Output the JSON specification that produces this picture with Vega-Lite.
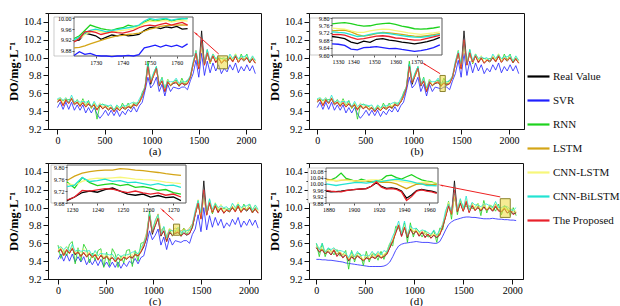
{
"$schema": "https://vega.github.io/schema/vega-lite/v6.json",
"background": "white",
"padding": {"left": 7, "top": 7, "right": 0, "bottom": 0},
"config": {
 "font": "Liberation Serif",
 "view": {"stroke": "#111", "strokeWidth": 1},
 "axis": {"labelFont": "Liberation Serif", "titleFont": "Liberation Serif", "labelColor": "#000", "titleColor": "#000", "domainColor": "#111", "tickColor": "#111", "grid": false, "labelOverlap": false}
},
"datasets": {
 "ab": [
{"x":0,"R":9.50,"S":9.44,"N":9.53,"L":9.505,"C":9.505,"B":9.54,"P":9.51},
{"x":30,"R":9.53,"S":9.50,"N":9.53,"L":9.545,"C":9.555,"B":9.55,"P":9.53},
{"x":60,"R":9.47,"S":9.42,"N":9.52,"L":9.465,"C":9.485,"B":9.52,"P":9.46},
{"x":90,"R":9.52,"S":9.50,"N":9.53,"L":9.53,"C":9.555,"B":9.55,"P":9.53},
{"x":120,"R":9.49,"S":9.42,"N":9.53,"L":9.49,"C":9.495,"B":9.50,"P":9.485},
{"x":150,"R":9.54,"S":9.50,"N":9.53,"L":9.545,"C":9.555,"B":9.58,"P":9.545},
{"x":180,"R":9.47,"S":9.41,"N":9.49,"L":9.485,"C":9.475,"B":9.50,"P":9.48},
{"x":210,"R":9.50,"S":9.47,"N":9.53,"L":9.495,"C":9.525,"B":9.52,"P":9.50},
{"x":240,"R":9.46,"S":9.41,"N":9.46,"L":9.47,"C":9.475,"B":9.50,"P":9.45},
{"x":270,"R":9.49,"S":9.47,"N":9.54,"L":9.49,"C":9.525,"B":9.51,"P":9.50},
{"x":300,"R":9.45,"S":9.38,"N":9.46,"L":9.455,"C":9.455,"B":9.50,"P":9.445},
{"x":330,"R":9.48,"S":9.44,"N":9.52,"L":9.495,"C":9.495,"B":9.51,"P":9.485},
{"x":360,"R":9.44,"S":9.38,"N":9.43,"L":9.435,"C":9.445,"B":9.45,"P":9.45},
{"x":390,"R":9.47,"S":9.44,"N":9.49,"L":9.48,"C":9.495,"B":9.51,"P":9.47},
{"x":420,"R":9.42,"S":9.37,"N":9.31,"L":9.42,"C":9.435,"B":9.45,"P":9.41},
{"x":450,"R":9.46,"S":9.32,"N":9.46,"L":9.465,"C":9.495,"B":9.48,"P":9.47},
{"x":480,"R":9.43,"S":9.36,"N":9.48,"L":9.445,"C":9.435,"B":9.47,"P":9.425},
{"x":510,"R":9.45,"S":9.41,"N":9.46,"L":9.445,"C":9.465,"B":9.47,"P":9.455},
{"x":540,"R":9.41,"S":9.35,"N":9.45,"L":9.42,"C":9.415,"B":9.46,"P":9.42},
{"x":570,"R":9.44,"S":9.41,"N":9.43,"L":9.44,"C":9.465,"B":9.47,"P":9.44},
{"x":600,"R":9.40,"S":9.35,"N":9.42,"L":9.405,"C":9.415,"B":9.41,"P":9.39},
{"x":630,"R":9.43,"S":9.41,"N":9.46,"L":9.445,"C":9.465,"B":9.47,"P":9.44},
{"x":660,"R":9.41,"S":9.34,"N":9.41,"L":9.405,"C":9.415,"B":9.44,"P":9.405},
{"x":690,"R":9.44,"S":9.40,"N":9.49,"L":9.45,"C":9.455,"B":9.46,"P":9.445},
{"x":720,"R":9.42,"S":9.36,"N":9.43,"L":9.42,"C":9.425,"B":9.46,"P":9.43},
{"x":750,"R":9.45,"S":9.42,"N":9.49,"L":9.455,"C":9.475,"B":9.47,"P":9.45},
{"x":780,"R":9.44,"S":9.39,"N":9.43,"L":9.455,"C":9.455,"B":9.49,"P":9.43},
{"x":810,"R":9.47,"S":9.45,"N":9.49,"L":9.465,"C":9.505,"B":9.50,"P":9.48},
{"x":840,"R":9.46,"S":9.39,"N":9.49,"L":9.47,"C":9.465,"B":9.47,"P":9.455},
{"x":870,"R":9.50,"S":9.46,"N":9.50,"L":9.50,"C":9.515,"B":9.54,"P":9.505},
{"x":900,"R":9.56,"S":9.50,"N":9.61,"L":9.565,"C":9.565,"B":9.59,"P":9.57},
{"x":930,"R":9.66,"S":9.63,"N":9.67,"L":9.675,"C":9.685,"B":9.68,"P":9.66},
{"x":960,"R":9.92,"S":9.78,"N":9.96,"L":9.88,"C":9.90,"B":9.93,"P":9.90},
{"x":990,"R":9.70,"S":9.66,"N":9.72,"L":9.73,"C":9.74,"B":9.74,"P":9.72},
{"x":1020,"R":9.80,"S":9.70,"N":9.82,"L":9.79,"C":9.80,"B":9.83,"P":9.795},
{"x":1050,"R":9.88,"S":9.78,"N":9.90,"L":9.87,"C":9.88,"B":9.90,"P":9.88},
{"x":1080,"R":9.68,"S":9.62,"N":9.70,"L":9.70,"C":9.69,"B":9.70,"P":9.69},
{"x":1110,"R":9.74,"S":9.70,"N":9.78,"L":9.735,"C":9.765,"B":9.77,"P":9.74},
{"x":1140,"R":9.62,"S":9.57,"N":9.64,"L":9.63,"C":9.645,"B":9.66,"P":9.62},
{"x":1170,"R":9.72,"S":9.70,"N":9.76,"L":9.72,"C":9.755,"B":9.74,"P":9.73},
{"x":1200,"R":9.69,"S":9.62,"N":9.68,"L":9.695,"C":9.695,"B":9.73,"P":9.685},
{"x":1230,"R":9.71,"S":9.67,"N":9.73,"L":9.725,"C":9.725,"B":9.73,"P":9.715},
{"x":1260,"R":9.72,"S":9.66,"N":9.75,"L":9.715,"C":9.725,"B":9.77,"P":9.73},
{"x":1290,"R":9.68,"S":9.65,"N":9.68,"L":9.69,"C":9.705,"B":9.71,"P":9.68},
{"x":1320,"R":9.72,"S":9.67,"N":9.77,"L":9.72,"C":9.735,"B":9.73,"P":9.71},
{"x":1350,"R":9.69,"S":9.67,"N":9.70,"L":9.695,"C":9.725,"B":9.73,"P":9.70},
{"x":1380,"R":9.71,"S":9.64,"N":9.75,"L":9.725,"C":9.715,"B":9.74,"P":9.705},
{"x":1410,"R":9.78,"S":9.74,"N":9.77,"L":9.775,"C":9.795,"B":9.80,"P":9.785},
{"x":1440,"R":9.92,"S":9.82,"N":9.94,"L":9.93,"C":9.925,"B":9.96,"P":9.93},
{"x":1470,"R":10.05,"S":9.97,"N":10.08,"L":10.05,"C":10.075,"B":10.07,"P":10.05},
{"x":1500,"R":9.88,"S":9.78,"N":9.88,"L":9.885,"C":9.895,"B":9.93,"P":9.87},
{"x":1530,"R":10.30,"S":10.05,"N":10.18,"L":10.12,"C":10.12,"B":10.16,"P":10.20},
{"x":1560,"R":9.92,"S":9.80,"N":9.93,"L":9.915,"C":9.925,"B":9.93,"P":9.915},
{"x":1590,"R":10.05,"S":9.96,"N":10.09,"L":10.06,"C":10.065,"B":10.09,"P":10.055},
{"x":1620,"R":9.94,"S":9.83,"N":9.93,"L":9.94,"C":9.945,"B":9.97,"P":9.95},
{"x":1650,"R":10.02,"S":9.94,"N":10.04,"L":10.025,"C":10.045,"B":10.04,"P":10.02},
{"x":1680,"R":9.95,"S":9.85,"N":9.98,"L":9.965,"C":9.965,"B":9.99,"P":9.94},
{"x":1710,"R":9.99,"S":9.92,"N":9.99,"L":9.985,"C":10.025,"B":10.01,"P":10.00},
{"x":1740,"R":9.94,"S":9.82,"N":9.99,"L":9.95,"C":9.945,"B":9.99,"P":9.935},
{"x":1770,"R":9.97,"S":9.88,"N":9.98,"L":9.97,"C":9.985,"B":10.00,"P":9.975},
{"x":1800,"R":9.95,"S":9.84,"N":9.99,"L":9.955,"C":9.955,"B":9.96,"P":9.96},
{"x":1830,"R":10.00,"S":9.92,"N":9.99,"L":10.015,"C":10.025,"B":10.04,"P":10.00},
{"x":1860,"R":9.96,"S":9.86,"N":9.98,"L":9.955,"C":9.975,"B":9.99,"P":9.95},
{"x":1890,"R":10.01,"S":9.94,"N":10.04,"L":10.02,"C":10.045,"B":10.03,"P":10.02},
{"x":1920,"R":9.95,"S":9.83,"N":9.95,"L":9.95,"C":9.955,"B":9.99,"P":9.945},
{"x":1950,"R":9.99,"S":9.90,"N":10.04,"L":9.995,"C":10.005,"B":10.01,"P":9.995},
{"x":1980,"R":9.96,"S":9.85,"N":9.97,"L":9.975,"C":9.965,"B":10.01,"P":9.97},
{"x":2010,"R":10.00,"S":9.92,"N":10.04,"L":9.995,"C":10.025,"B":10.03,"P":10.00},
{"x":2040,"R":9.95,"S":9.85,"N":9.94,"L":9.96,"C":9.965,"B":9.96,"P":9.94},
{"x":2070,"R":9.98,"S":9.91,"N":10.00,"L":9.98,"C":10.015,"B":10.02,"P":9.99},
{"x":2100,"R":9.94,"S":9.82,"N":9.97,"L":9.945,"C":9.945,"B":9.97,"P":9.935}
 ],
 "c": [
{"x":0,"R":9.50,"S":9.42,"N":9.58,"L":9.505,"C":9.52,"B":9.55,"P":9.51},
{"x":30,"R":9.53,"S":9.48,"N":9.43,"L":9.545,"C":9.57,"B":9.56,"P":9.53},
{"x":60,"R":9.47,"S":9.40,"N":9.52,"L":9.465,"C":9.50,"B":9.53,"P":9.46},
{"x":90,"R":9.52,"S":9.48,"N":9.46,"L":9.53,"C":9.57,"B":9.56,"P":9.53},
{"x":120,"R":9.49,"S":9.40,"N":9.59,"L":9.49,"C":9.51,"B":9.51,"P":9.485},
{"x":150,"R":9.54,"S":9.48,"N":9.62,"L":9.545,"C":9.57,"B":9.59,"P":9.545},
{"x":180,"R":9.47,"S":9.39,"N":9.37,"L":9.485,"C":9.49,"B":9.51,"P":9.48},
{"x":210,"R":9.50,"S":9.45,"N":9.55,"L":9.495,"C":9.54,"B":9.53,"P":9.50},
{"x":240,"R":9.46,"S":9.39,"N":9.40,"L":9.47,"C":9.49,"B":9.51,"P":9.45},
{"x":270,"R":9.49,"S":9.45,"N":9.59,"L":9.49,"C":9.54,"B":9.52,"P":9.50},
{"x":300,"R":9.45,"S":9.36,"N":9.53,"L":9.455,"C":9.47,"B":9.51,"P":9.445},
{"x":330,"R":9.48,"S":9.42,"N":9.38,"L":9.495,"C":9.51,"B":9.52,"P":9.485},
{"x":360,"R":9.44,"S":9.36,"N":9.49,"L":9.435,"C":9.46,"B":9.46,"P":9.45},
{"x":390,"R":9.47,"S":9.42,"N":9.41,"L":9.48,"C":9.51,"B":9.52,"P":9.47},
{"x":420,"R":9.42,"S":9.35,"N":9.52,"L":9.42,"C":9.45,"B":9.46,"P":9.41},
{"x":450,"R":9.46,"S":9.42,"N":9.54,"L":9.465,"C":9.51,"B":9.49,"P":9.47},
{"x":480,"R":9.43,"S":9.34,"N":9.33,"L":9.445,"C":9.45,"B":9.48,"P":9.425},
{"x":510,"R":9.45,"S":9.39,"N":9.50,"L":9.445,"C":9.48,"B":9.48,"P":9.455},
{"x":540,"R":9.41,"S":9.33,"N":9.35,"L":9.42,"C":9.43,"B":9.47,"P":9.42},
{"x":570,"R":9.44,"S":9.39,"N":9.54,"L":9.44,"C":9.48,"B":9.48,"P":9.44},
{"x":600,"R":9.40,"S":9.33,"N":9.48,"L":9.405,"C":9.43,"B":9.42,"P":9.39},
{"x":630,"R":9.43,"S":9.39,"N":9.33,"L":9.445,"C":9.48,"B":9.48,"P":9.44},
{"x":660,"R":9.41,"S":9.32,"N":9.46,"L":9.405,"C":9.43,"B":9.45,"P":9.405},
{"x":690,"R":9.44,"S":9.38,"N":9.38,"L":9.45,"C":9.47,"B":9.47,"P":9.445},
{"x":720,"R":9.42,"S":9.34,"N":9.52,"L":9.42,"C":9.44,"B":9.47,"P":9.43},
{"x":750,"R":9.45,"S":9.40,"N":9.53,"L":9.455,"C":9.49,"B":9.48,"P":9.45},
{"x":780,"R":9.44,"S":9.37,"N":9.34,"L":9.455,"C":9.47,"B":9.50,"P":9.43},
{"x":810,"R":9.47,"S":9.43,"N":9.52,"L":9.465,"C":9.52,"B":9.51,"P":9.48},
{"x":840,"R":9.46,"S":9.37,"N":9.40,"L":9.47,"C":9.48,"B":9.48,"P":9.455},
{"x":870,"R":9.50,"S":9.44,"N":9.60,"L":9.50,"C":9.53,"B":9.55,"P":9.505},
{"x":900,"R":9.56,"S":9.46,"N":9.61,"L":9.61,"C":9.58,"B":9.60,"P":9.57},
{"x":930,"R":9.66,"S":9.59,"N":9.67,"L":9.72,"C":9.70,"B":9.69,"P":9.66},
{"x":960,"R":9.92,"S":9.74,"N":9.96,"L":9.93,"C":9.90,"B":9.93,"P":9.90},
{"x":990,"R":9.70,"S":9.64,"N":9.72,"L":9.755,"C":9.75,"B":9.73,"P":9.72},
{"x":1020,"R":9.80,"S":9.69,"N":9.82,"L":9.845,"C":9.82,"B":9.86,"P":9.795},
{"x":1050,"R":9.88,"S":9.76,"N":9.90,"L":9.93,"C":9.91,"B":9.92,"P":9.88},
{"x":1080,"R":9.68,"S":9.58,"N":9.70,"L":9.74,"C":9.70,"B":9.70,"P":9.69},
{"x":1110,"R":9.74,"S":9.67,"N":9.78,"L":9.78,"C":9.78,"B":9.79,"P":9.74},
{"x":1140,"R":9.62,"S":9.53,"N":9.64,"L":9.675,"C":9.65,"B":9.66,"P":9.62},
{"x":1170,"R":9.72,"S":9.66,"N":9.76,"L":9.765,"C":9.77,"B":9.75,"P":9.73},
{"x":1200,"R":9.69,"S":9.58,"N":9.68,"L":9.74,"C":9.71,"B":9.74,"P":9.685},
{"x":1230,"R":9.71,"S":9.63,"N":9.73,"L":9.77,"C":9.74,"B":9.74,"P":9.715},
{"x":1260,"R":9.72,"S":9.62,"N":9.75,"L":9.76,"C":9.74,"B":9.78,"P":9.73},
{"x":1290,"R":9.68,"S":9.61,"N":9.68,"L":9.735,"C":9.72,"B":9.72,"P":9.68},
{"x":1320,"R":9.72,"S":9.63,"N":9.77,"L":9.765,"C":9.75,"B":9.74,"P":9.71},
{"x":1350,"R":9.69,"S":9.63,"N":9.70,"L":9.74,"C":9.74,"B":9.74,"P":9.70},
{"x":1380,"R":9.71,"S":9.60,"N":9.75,"L":9.77,"C":9.73,"B":9.75,"P":9.705},
{"x":1410,"R":9.78,"S":9.70,"N":9.77,"L":9.82,"C":9.81,"B":9.81,"P":9.785},
{"x":1440,"R":9.92,"S":9.76,"N":9.94,"L":9.93,"C":9.94,"B":9.97,"P":9.93},
{"x":1470,"R":10.05,"S":9.92,"N":10.08,"L":10.05,"C":10.09,"B":10.08,"P":10.05},
{"x":1500,"R":9.88,"S":9.73,"N":9.88,"L":9.885,"C":9.91,"B":9.94,"P":9.87},
{"x":1530,"R":10.30,"S":10.00,"N":10.16,"L":10.12,"C":10.12,"B":10.15,"P":10.20},
{"x":1560,"R":9.92,"S":9.75,"N":9.93,"L":9.915,"C":9.94,"B":9.94,"P":9.915},
{"x":1590,"R":10.05,"S":9.91,"N":10.09,"L":10.06,"C":10.08,"B":10.10,"P":10.055},
{"x":1620,"R":9.94,"S":9.78,"N":9.93,"L":9.94,"C":9.96,"B":9.98,"P":9.95},
{"x":1650,"R":10.02,"S":9.89,"N":10.04,"L":10.025,"C":10.06,"B":10.05,"P":10.02},
{"x":1680,"R":9.95,"S":9.80,"N":9.98,"L":9.965,"C":9.98,"B":10.00,"P":9.94},
{"x":1710,"R":9.99,"S":9.87,"N":9.99,"L":9.985,"C":10.04,"B":10.02,"P":10.00},
{"x":1740,"R":9.94,"S":9.77,"N":9.99,"L":9.95,"C":9.96,"B":10.00,"P":9.935},
{"x":1770,"R":9.97,"S":9.83,"N":9.98,"L":9.97,"C":10.00,"B":10.01,"P":9.975},
{"x":1800,"R":9.95,"S":9.79,"N":9.99,"L":9.955,"C":9.97,"B":9.97,"P":9.96},
{"x":1830,"R":10.00,"S":9.87,"N":9.99,"L":10.015,"C":10.04,"B":10.05,"P":10.00},
{"x":1860,"R":9.96,"S":9.81,"N":9.98,"L":9.955,"C":9.99,"B":10.00,"P":9.95},
{"x":1890,"R":10.01,"S":9.89,"N":10.04,"L":10.02,"C":10.06,"B":10.04,"P":10.02},
{"x":1920,"R":9.95,"S":9.78,"N":9.95,"L":9.95,"C":9.97,"B":10.00,"P":9.945},
{"x":1950,"R":9.99,"S":9.85,"N":10.04,"L":9.995,"C":10.02,"B":10.02,"P":9.995},
{"x":1980,"R":9.96,"S":9.80,"N":9.97,"L":9.975,"C":9.98,"B":10.02,"P":9.97},
{"x":2010,"R":10.00,"S":9.87,"N":10.04,"L":9.995,"C":10.04,"B":10.04,"P":10.00},
{"x":2040,"R":9.95,"S":9.80,"N":9.94,"L":9.96,"C":9.98,"B":9.97,"P":9.94},
{"x":2070,"R":9.98,"S":9.86,"N":10.00,"L":9.98,"C":10.03,"B":10.03,"P":9.99},
{"x":2100,"R":9.94,"S":9.77,"N":9.97,"L":9.945,"C":9.96,"B":9.98,"P":9.935}
 ],
 "d": [
{"x":0,"R":9.55,"S":9.42,"N":9.60,"L":9.56,"C":9.58,"B":9.60,"P":9.55},
{"x":30,"R":9.50,"S":9.42,"N":9.45,"L":9.53,"C":9.55,"B":9.53,"P":9.51},
{"x":60,"R":9.53,"S":9.415,"N":9.60,"L":9.53,"C":9.55,"B":9.60,"P":9.52},
{"x":90,"R":9.48,"S":9.415,"N":9.45,"L":9.50,"C":9.52,"B":9.50,"P":9.485},
{"x":120,"R":9.51,"S":9.41,"N":9.54,"L":9.52,"C":9.52,"B":9.55,"P":9.505},
{"x":150,"R":9.47,"S":9.41,"N":9.52,"L":9.50,"C":9.50,"B":9.53,"P":9.47},
{"x":180,"R":9.52,"S":9.405,"N":9.47,"L":9.52,"C":9.55,"B":9.55,"P":9.53},
{"x":210,"R":9.46,"S":9.40,"N":9.53,"L":9.48,"C":9.51,"B":9.51,"P":9.45},
{"x":240,"R":9.49,"S":9.395,"N":9.46,"L":9.50,"C":9.51,"B":9.52,"P":9.495},
{"x":270,"R":9.44,"S":9.39,"N":9.47,"L":9.47,"C":9.48,"B":9.51,"P":9.435},
{"x":300,"R":9.47,"S":9.38,"N":9.52,"L":9.47,"C":9.48,"B":9.49,"P":9.47},
{"x":330,"R":9.40,"S":9.375,"N":9.31,"L":9.42,"C":9.43,"B":9.44,"P":9.41},
{"x":360,"R":9.45,"S":9.37,"N":9.52,"L":9.46,"C":9.48,"B":9.51,"P":9.44},
{"x":390,"R":9.42,"S":9.365,"N":9.39,"L":9.45,"C":9.47,"B":9.45,"P":9.425},
{"x":420,"R":9.46,"S":9.36,"N":9.49,"L":9.46,"C":9.48,"B":9.51,"P":9.455},
{"x":450,"R":9.43,"S":9.355,"N":9.48,"L":9.45,"C":9.47,"B":9.46,"P":9.43},
{"x":480,"R":9.40,"S":9.35,"N":9.35,"L":9.41,"C":9.41,"B":9.47,"P":9.41},
{"x":510,"R":9.44,"S":9.345,"N":9.51,"L":9.47,"C":9.47,"B":9.46,"P":9.43},
{"x":540,"R":9.42,"S":9.34,"N":9.39,"L":9.42,"C":9.45,"B":9.46,"P":9.425},
{"x":570,"R":9.45,"S":9.34,"N":9.48,"L":9.47,"C":9.50,"B":9.51,"P":9.445},
{"x":600,"R":9.43,"S":9.34,"N":9.48,"L":9.44,"C":9.45,"B":9.46,"P":9.43},
{"x":630,"R":9.46,"S":9.34,"N":9.41,"L":9.49,"C":9.50,"B":9.51,"P":9.47},
{"x":660,"R":9.44,"S":9.34,"N":9.51,"L":9.44,"C":9.45,"B":9.47,"P":9.43},
{"x":690,"R":9.45,"S":9.345,"N":9.42,"L":9.47,"C":9.48,"B":9.52,"P":9.455},
{"x":720,"R":9.48,"S":9.36,"N":9.51,"L":9.49,"C":9.51,"B":9.50,"P":9.475},
{"x":750,"R":9.55,"S":9.39,"N":9.60,"L":9.58,"C":9.60,"B":9.59,"P":9.55},
{"x":780,"R":9.62,"S":9.45,"N":9.57,"L":9.62,"C":9.64,"B":9.68,"P":9.63},
{"x":810,"R":9.72,"S":9.52,"N":9.79,"L":9.74,"C":9.76,"B":9.75,"P":9.71},
{"x":840,"R":9.80,"S":9.57,"N":9.77,"L":9.81,"C":9.81,"B":9.85,"P":9.805},
{"x":870,"R":9.68,"S":9.59,"N":9.71,"L":9.71,"C":9.71,"B":9.71,"P":9.675},
{"x":900,"R":9.78,"S":9.60,"N":9.83,"L":9.78,"C":9.81,"B":9.85,"P":9.78},
{"x":930,"R":9.66,"S":9.605,"N":9.61,"L":9.68,"C":9.71,"B":9.68,"P":9.67},
{"x":960,"R":9.76,"S":9.61,"N":9.83,"L":9.77,"C":9.78,"B":9.80,"P":9.75},
{"x":990,"R":9.70,"S":9.615,"N":9.67,"L":9.73,"C":9.74,"B":9.76,"P":9.705},
{"x":1020,"R":9.74,"S":9.62,"N":9.77,"L":9.74,"C":9.75,"B":9.77,"P":9.735},
{"x":1050,"R":9.68,"S":9.615,"N":9.73,"L":9.70,"C":9.71,"B":9.73,"P":9.68},
{"x":1080,"R":9.72,"S":9.61,"N":9.67,"L":9.73,"C":9.75,"B":9.75,"P":9.73},
{"x":1110,"R":9.67,"S":9.61,"N":9.74,"L":9.70,"C":9.72,"B":9.74,"P":9.66},
{"x":1140,"R":9.70,"S":9.61,"N":9.67,"L":9.70,"C":9.72,"B":9.72,"P":9.705},
{"x":1170,"R":9.66,"S":9.605,"N":9.69,"L":9.68,"C":9.70,"B":9.70,"P":9.655},
{"x":1200,"R":9.69,"S":9.60,"N":9.74,"L":9.70,"C":9.70,"B":9.75,"P":9.69},
{"x":1230,"R":9.66,"S":9.60,"N":9.61,"L":9.69,"C":9.69,"B":9.69,"P":9.67},
{"x":1260,"R":9.70,"S":9.62,"N":9.77,"L":9.70,"C":9.73,"B":9.75,"P":9.69},
{"x":1290,"R":9.78,"S":9.68,"N":9.75,"L":9.80,"C":9.83,"B":9.81,"P":9.785},
{"x":1320,"R":9.90,"S":9.75,"N":9.93,"L":9.91,"C":9.92,"B":9.97,"P":9.895},
{"x":1350,"R":10.02,"S":9.81,"N":10.07,"L":10.05,"C":10.06,"B":10.04,"P":10.02},
{"x":1380,"R":9.92,"S":9.84,"N":9.87,"L":9.92,"C":9.93,"B":9.96,"P":9.93},
{"x":1410,"R":10.30,"S":9.86,"N":10.15,"L":10.12,"C":10.14,"B":10.18,"P":10.20},
{"x":1440,"R":9.95,"S":9.87,"N":9.92,"L":9.96,"C":9.98,"B":9.98,"P":9.955},
{"x":1470,"R":10.05,"S":9.88,"N":10.08,"L":10.08,"C":10.10,"B":10.10,"P":10.045},
{"x":1500,"R":9.96,"S":9.89,"N":10.01,"L":9.96,"C":9.98,"B":9.99,"P":9.96},
{"x":1530,"R":10.06,"S":9.895,"N":10.01,"L":10.08,"C":10.10,"B":10.13,"P":10.07},
{"x":1560,"R":9.95,"S":9.895,"N":10.02,"L":9.96,"C":9.96,"B":9.97,"P":9.94},
{"x":1590,"R":10.02,"S":9.89,"N":9.99,"L":10.05,"C":10.05,"B":10.06,"P":10.025},
{"x":1620,"R":9.97,"S":9.89,"N":10.00,"L":9.97,"C":10.00,"B":10.03,"P":9.965},
{"x":1650,"R":10.00,"S":9.885,"N":10.05,"L":10.02,"C":10.05,"B":10.03,"P":10.00},
{"x":1680,"R":9.96,"S":9.88,"N":9.91,"L":9.97,"C":9.98,"B":10.01,"P":9.97},
{"x":1710,"R":10.01,"S":9.875,"N":10.08,"L":10.04,"C":10.05,"B":10.04,"P":10.00},
{"x":1740,"R":9.97,"S":9.875,"N":9.94,"L":9.97,"C":9.98,"B":10.04,"P":9.975},
{"x":1770,"R":10.00,"S":9.875,"N":10.03,"L":10.02,"C":10.03,"B":10.02,"P":9.995},
{"x":1800,"R":9.96,"S":9.88,"N":10.01,"L":9.97,"C":9.99,"B":10.00,"P":9.96},
{"x":1830,"R":10.01,"S":9.875,"N":9.96,"L":10.04,"C":10.06,"B":10.07,"P":10.02},
{"x":1860,"R":9.97,"S":9.87,"N":10.04,"L":9.97,"C":9.99,"B":10.00,"P":9.96},
{"x":1890,"R":9.95,"S":9.87,"N":9.92,"L":9.97,"C":9.99,"B":10.00,"P":9.955},
{"x":1920,"R":9.99,"S":9.865,"N":10.02,"L":10.00,"C":10.00,"B":10.02,"P":9.985},
{"x":1950,"R":9.94,"S":9.865,"N":9.99,"L":9.97,"C":9.97,"B":10.01,"P":9.94},
{"x":1980,"R":9.96,"S":9.86,"N":9.91,"L":9.96,"C":9.99,"B":9.98,"P":9.97},
{"x":2010,"R":9.93,"S":9.86,"N":10.00,"L":9.95,"C":9.98,"B":9.97,"P":9.92},
{"x":2040,"R":9.94,"S":9.855,"N":9.91,"L":9.95,"C":9.96,"B":10.00,"P":9.945}
 ],
 "ia": [
{"x":1722,"R":9.915,"S":9.862,"N":9.925,"L":9.89,"C":9.915,"B":9.92,"P":9.912},
{"x":1724,"R":9.92,"S":9.876,"N":9.935,"L":9.892,"C":9.925,"B":9.93,"P":9.925},
{"x":1726,"R":9.945,"S":9.866,"N":9.955,"L":9.898,"C":9.94,"B":9.945,"P":9.95},
{"x":1728,"R":9.94,"S":9.87,"N":9.975,"L":9.905,"C":9.95,"B":9.955,"P":9.952},
{"x":1730,"R":9.935,"S":9.862,"N":9.968,"L":9.912,"C":9.955,"B":9.96,"P":9.948},
{"x":1732,"R":9.922,"S":9.86,"N":9.962,"L":9.918,"C":9.95,"B":9.955,"P":9.94},
{"x":1734,"R":9.93,"S":9.86,"N":9.958,"L":9.925,"C":9.945,"B":9.95,"P":9.945},
{"x":1736,"R":9.938,"S":9.858,"N":9.955,"L":9.93,"C":9.95,"B":9.955,"P":9.95},
{"x":1738,"R":9.935,"S":9.86,"N":9.962,"L":9.935,"C":9.952,"B":9.958,"P":9.947},
{"x":1740,"R":9.94,"S":9.86,"N":9.965,"L":9.937,"C":9.955,"B":9.962,"P":9.945},
{"x":1742,"R":9.935,"S":9.862,"N":9.975,"L":9.94,"C":9.958,"B":9.965,"P":9.95},
{"x":1744,"R":9.937,"S":9.86,"N":9.97,"L":9.942,"C":9.962,"B":9.968,"P":9.955},
{"x":1746,"R":9.94,"S":9.865,"N":9.972,"L":9.945,"C":9.97,"B":9.975,"P":9.965},
{"x":1748,"R":9.955,"S":9.89,"N":9.985,"L":9.952,"C":9.982,"B":9.99,"P":9.972},
{"x":1750,"R":9.965,"S":9.895,"N":9.995,"L":9.96,"C":9.99,"B":10.0,"P":9.975},
{"x":1752,"R":9.967,"S":9.9,"N":9.99,"L":9.965,"C":9.988,"B":9.995,"P":9.972},
{"x":1754,"R":9.962,"S":9.893,"N":9.993,"L":9.97,"C":9.99,"B":9.998,"P":9.978},
{"x":1756,"R":9.968,"S":9.9,"N":9.998,"L":9.973,"C":9.992,"B":10.0,"P":9.982},
{"x":1758,"R":9.965,"S":9.895,"N":9.99,"L":9.975,"C":9.986,"B":9.993,"P":9.975},
{"x":1760,"R":9.97,"S":9.9,"N":9.995,"L":9.975,"C":9.99,"B":9.997,"P":9.98},
{"x":1762,"R":9.96,"S":9.892,"N":9.998,"L":9.976,"C":9.992,"B":10.0,"P":9.985},
{"x":1764,"R":9.962,"S":9.905,"N":10.0,"L":9.975,"C":9.99,"B":9.998,"P":9.975}
 ],
 "ib": [
{"x":1330,"R":9.70,"S":9.66,"N":9.768,"L":9.73,"C":9.745,"B":9.725,"P":9.71},
{"x":1333,"R":9.695,"S":9.658,"N":9.772,"L":9.733,"C":9.743,"B":9.722,"P":9.712},
{"x":1336,"R":9.688,"S":9.652,"N":9.775,"L":9.735,"C":9.74,"B":9.72,"P":9.708},
{"x":1339,"R":9.67,"S":9.632,"N":9.77,"L":9.725,"C":9.73,"B":9.71,"P":9.695},
{"x":1342,"R":9.662,"S":9.628,"N":9.762,"L":9.71,"C":9.722,"B":9.70,"P":9.685},
{"x":1345,"R":9.675,"S":9.64,"N":9.756,"L":9.702,"C":9.722,"B":9.703,"P":9.688},
{"x":1348,"R":9.668,"S":9.642,"N":9.758,"L":9.708,"C":9.73,"B":9.712,"P":9.695},
{"x":1351,"R":9.685,"S":9.645,"N":9.765,"L":9.715,"C":9.736,"B":9.718,"P":9.702},
{"x":1354,"R":9.688,"S":9.64,"N":9.77,"L":9.722,"C":9.74,"B":9.72,"P":9.704},
{"x":1357,"R":9.68,"S":9.635,"N":9.772,"L":9.72,"C":9.738,"B":9.716,"P":9.70},
{"x":1360,"R":9.676,"S":9.636,"N":9.765,"L":9.716,"C":9.732,"B":9.71,"P":9.692},
{"x":1363,"R":9.67,"S":9.63,"N":9.756,"L":9.712,"C":9.726,"B":9.705,"P":9.69},
{"x":1366,"R":9.665,"S":9.625,"N":9.75,"L":9.706,"C":9.72,"B":9.70,"P":9.684},
{"x":1369,"R":9.66,"S":9.62,"N":9.742,"L":9.702,"C":9.716,"B":9.697,"P":9.68},
{"x":1372,"R":9.666,"S":9.624,"N":9.74,"L":9.70,"C":9.712,"B":9.695,"P":9.682},
{"x":1375,"R":9.672,"S":9.63,"N":9.742,"L":9.705,"C":9.716,"B":9.70,"P":9.69},
{"x":1378,"R":9.682,"S":9.64,"N":9.746,"L":9.71,"C":9.72,"B":9.705,"P":9.698},
{"x":1381,"R":9.695,"S":9.655,"N":9.752,"L":9.716,"C":9.725,"B":9.712,"P":9.706}
 ],
 "ic": [
{"x":1228,"R":9.688,"N":9.75,"L":9.755,"C":9.745,"B":9.735,"P":9.69},
{"x":1231,"R":9.70,"N":9.73,"L":9.77,"C":9.74,"B":9.74,"P":9.70},
{"x":1234,"R":9.715,"N":9.765,"L":9.78,"C":9.752,"B":9.765,"P":9.722},
{"x":1237,"R":9.72,"N":9.748,"L":9.785,"C":9.76,"B":9.752,"P":9.72},
{"x":1240,"R":9.716,"N":9.738,"L":9.788,"C":9.763,"B":9.755,"P":9.724},
{"x":1243,"R":9.725,"N":9.742,"L":9.79,"C":9.762,"B":9.76,"P":9.728},
{"x":1246,"R":9.73,"N":9.745,"L":9.79,"C":9.764,"B":9.752,"P":9.726},
{"x":1249,"R":9.72,"N":9.738,"L":9.795,"C":9.766,"B":9.755,"P":9.72},
{"x":1252,"R":9.71,"N":9.742,"L":9.793,"C":9.763,"B":9.748,"P":9.715},
{"x":1255,"R":9.706,"N":9.732,"L":9.79,"C":9.76,"B":9.75,"P":9.72},
{"x":1258,"R":9.71,"N":9.735,"L":9.788,"C":9.758,"B":9.745,"P":9.714},
{"x":1261,"R":9.70,"N":9.73,"L":9.785,"C":9.757,"B":9.74,"P":9.71},
{"x":1264,"R":9.705,"N":9.722,"L":9.782,"C":9.754,"B":9.745,"P":9.714},
{"x":1267,"R":9.698,"N":9.725,"L":9.778,"C":9.75,"B":9.738,"P":9.706},
{"x":1270,"R":9.70,"N":9.715,"L":9.775,"C":9.747,"B":9.74,"P":9.71},
{"x":1273,"R":9.688,"N":9.71,"L":9.772,"C":9.745,"B":9.732,"P":9.70}
 ],
 "id": [
{"x":1878,"R":9.955,"N":10.02,"L":10.03,"C":10.02,"B":10.00,"P":9.96},
{"x":1882,"R":9.95,"N":10.025,"L":10.025,"C":10.022,"B":9.995,"P":9.955},
{"x":1886,"R":9.952,"N":10.04,"L":10.02,"C":10.02,"B":9.99,"P":9.952},
{"x":1890,"R":9.955,"N":10.068,"L":10.022,"C":10.025,"B":9.995,"P":9.95},
{"x":1894,"R":9.96,"N":10.035,"L":10.025,"C":10.022,"B":10.0,"P":9.958},
{"x":1898,"R":9.962,"N":10.025,"L":10.022,"C":10.02,"B":10.005,"P":9.962},
{"x":1902,"R":9.965,"N":10.015,"L":10.02,"C":10.018,"B":10.01,"P":9.965},
{"x":1906,"R":9.968,"N":10.03,"L":10.018,"C":10.02,"B":10.008,"P":9.968},
{"x":1910,"R":9.97,"N":10.02,"L":10.02,"C":10.022,"B":10.005,"P":9.97},
{"x":1914,"R":9.985,"N":10.01,"L":10.015,"C":10.025,"B":10.01,"P":9.985},
{"x":1918,"R":10.008,"N":10.018,"L":10.015,"C":10.025,"B":10.02,"P":10.012},
{"x":1922,"R":9.985,"N":10.025,"L":10.01,"C":10.022,"B":10.015,"P":9.98},
{"x":1926,"R":9.972,"N":10.05,"L":10.012,"C":10.02,"B":10.02,"P":9.968},
{"x":1930,"R":9.975,"N":10.055,"L":10.008,"C":10.022,"B":10.025,"P":9.97},
{"x":1934,"R":9.97,"N":10.04,"L":10.0,"C":10.02,"B":10.03,"P":9.965},
{"x":1938,"R":9.955,"N":10.03,"L":9.985,"C":10.015,"B":10.025,"P":9.95},
{"x":1942,"R":9.91,"N":10.045,"L":9.97,"C":10.01,"B":10.02,"P":9.895},
{"x":1946,"R":9.93,"N":10.058,"L":9.985,"C":10.005,"B":10.015,"P":9.92},
{"x":1950,"R":9.958,"N":10.04,"L":9.998,"C":10.005,"B":10.005,"P":9.955},
{"x":1954,"R":9.965,"N":10.025,"L":10.0,"C":10.01,"B":10.0,"P":9.962},
{"x":1958,"R":9.96,"N":10.018,"L":9.998,"C":10.012,"B":9.99,"P":9.955},
{"x":1962,"R":9.955,"N":10.012,"L":9.995,"C":10.008,"B":9.99,"P":9.95},
{"x":1966,"R":9.945,"N":10.0,"L":9.995,"C":10.005,"B":9.988,"P":9.94}
 ]
},
"vconcat": [
 {"hconcat": [
  {"width": 213, "height": 116,
   "resolve": {"scale": {"x": "independent", "y": "independent"}},
   "layer": [
    {"layer": [
     {"data": {"name": "ab"}, "transform": [{"fold": ["R","S","N","L","C","B","P"], "as": ["k","v"]}],
      "mark": {"type": "line", "strokeWidth": 0.8},
      "encoding": {
       "x": {"field": "x", "type": "quantitative", "title": "(a)", "scale": {"domain": [-100, 2160], "nice": false, "zero": false},
             "axis": {"values": [0,250,500,750,1000,1250,1500,1750,2000], "format": "d", "labelOverlap": false, "labelExpr": "datum.value % 500 == 0 ? datum.label : ''", "tickSize": {"condition": {"test": "datum.value % 500 == 0", "value": 5}, "value": 3}, "labelFontSize": 10, "labelPadding": 1, "titleFontSize": 11, "titleFontWeight": "normal", "titlePadding": 0, "labelFlush": false}},
       "y": {"field": "v", "type": "quantitative", "title": "DO/mg·L⁻¹", "scale": {"domain": [9.2, 10.5], "nice": false, "zero": false},
             "axis": {"tickCount": 13, "labelOverlap": false, "labelExpr": "round(datum.value*10) % 2 == 0 ? format(datum.value, '.1f') : ''", "tickSize": {"condition": {"test": "round(datum.value*10) % 2 == 0", "value": 5}, "value": 3}, "labelFontSize": 10, "titleFontSize": 12.5, "titleFontWeight": "bold", "titlePadding": 3}},
       "color": {"field": "k", "type": "nominal", "scale": {"domain": ["R","S","N","L","C","B","P"], "range": ["#000000","#1f1fff","#1ed21e","#d4a516","#f7f77a","#22e3d2","#e8202a"]},
                 "legend": {"orient": "none", "legendX": 478, "legendY": 51, "title": null, "symbolType": "stroke", "symbolStrokeWidth": 2.2, "symbolSize": 484, "labelFont": "Liberation Serif", "labelFontSize": 11, "labelColor": "#111", "rowPadding": 6, "labelOffset": 2, "padding": 0,
                 "labelExpr": "datum.label == 'R' ? 'Real Value' : datum.label == 'S' ? 'SVR' : datum.label == 'N' ? 'RNN' : datum.label == 'L' ? 'LSTM' : datum.label == 'C' ? 'CNN-LSTM' : datum.label == 'B' ? 'CNN-BiLSTM' : 'The Proposed'"}}
      }},
     {"data": {"values": [{"x1": 1700, "x2": 1805, "y1": 9.875, "y2": 10.02}]},
      "mark": {"type": "rect", "fill": "#efdc3c", "fillOpacity": 0.55, "stroke": "#8c8430", "strokeWidth": 1},
      "encoding": {"x": {"field": "x1", "type": "quantitative", "title": "(a)"}, "x2": {"field": "x2"}, "y": {"field": "y1", "type": "quantitative", "title": "DO/mg·L⁻¹"}, "y2": {"field": "y2"}}},
     {"data": {"values": [{"x1": 1712, "y1": 10.04, "x2": 1468, "y2": 10.27}]},
      "mark": {"type": "rule", "color": "#ee2222", "strokeWidth": 1},
      "encoding": {"x": {"field": "x1", "type": "quantitative", "title": "(a)"}, "x2": {"field": "x2"}, "y": {"field": "y1", "type": "quantitative", "title": "DO/mg·L⁻¹"}, "y2": {"field": "y2"}}},
     {"data": {"values": [{"x2": 1468, "y2": 10.27}]},
      "mark": {"type": "point", "shape": "wedge", "filled": true, "color": "#ee2222", "opacity": 1, "size": 40, "angle": 310},
      "encoding": {"x": {"field": "x2", "type": "quantitative", "title": "(a)"}, "y": {"field": "y2", "type": "quantitative", "title": "DO/mg·L⁻¹"}}}
    ]},
    {"layer": [
     {"data": {"values": [{"x1": 1714.6, "x2": 1766, "y1": 9.86, "y2": 10.005}]},
      "mark": {"type": "rect", "fill": "white", "stroke": "#aaa", "strokeWidth": 0.6},
      "encoding": {"x": {"field": "x1", "type": "quantitative", "title": null}, "x2": {"field": "x2"}, "y": {"field": "y1", "type": "quantitative", "title": null}, "y2": {"field": "y2"}}},
     {"data": {"values": [{"x1": 1722, "x2": 1766, "y1": 9.86, "y2": 10.005}]},
      "mark": {"type": "rect", "fillOpacity": 0, "stroke": "#555", "strokeWidth": 0.8},
      "encoding": {"x": {"field": "x1", "type": "quantitative", "title": null}, "x2": {"field": "x2"}, "y": {"field": "y1", "type": "quantitative", "title": null}, "y2": {"field": "y2"}}},
     {"data": {"name": "ia"}, "transform": [{"fold": ["R","S","N","L","C","B","P"], "as": ["k","v"]}],
      "mark": {"type": "line", "strokeWidth": 1.3},
      "encoding": {
       "x": {"field": "x", "type": "quantitative", "title": null, "scale": {"domain": [1722, 1766], "range": [26, 145], "nice": false, "zero": false},
             "axis": {"orient": "bottom", "offset": -73, "zindex": 2, "values": [1730,1740,1750,1760], "format": "d", "labelOverlap": false, "labelFontSize": 6, "tickSize": 2, "labelPadding": 1, "domain": false, "tickColor": "#555"}},
       "y": {"field": "v", "type": "quantitative", "title": null, "scale": {"domain": [9.86, 10.005], "range": [43, 4], "nice": false, "zero": false},
             "axis": {"orient": "left", "offset": -26, "zindex": 2, "tickCount": 15, "labelExpr": "round(datum.value*100) % 4 == 0 ? format(datum.value, '.2f') : ''", "tickSize": {"condition": {"test": "round(datum.value*100) % 4 == 0", "value": 2}, "value": 0}, "labelOverlap": false, "labelFontSize": 6, "labelPadding": 1, "domain": false, "tickColor": "#555"}},
       "color": {"field": "k", "type": "nominal", "scale": {"domain": ["R","S","N","L","C","B","P"], "range": ["#000000","#1f1fff","#1ed21e","#d4a516","#f7f77a","#22e3d2","#e8202a"]}, "legend": null}
      }}
    ]}
   ]},
  {"width": 215, "height": 116,
   "resolve": {"scale": {"x": "independent", "y": "independent"}},
   "layer": [
    {"layer": [
     {"data": {"name": "ab"}, "transform": [{"fold": ["R","S","N","L","C","B","P"], "as": ["k","v"]}],
      "mark": {"type": "line", "strokeWidth": 0.8},
      "encoding": {
       "x": {"field": "x", "type": "quantitative", "title": "(b)", "scale": {"domain": [-85, 2155], "nice": false, "zero": false},
             "axis": {"values": [0,250,500,750,1000,1250,1500,1750,2000], "format": "d", "labelOverlap": false, "labelExpr": "datum.value % 500 == 0 ? datum.label : ''", "tickSize": {"condition": {"test": "datum.value % 500 == 0", "value": 5}, "value": 3}, "labelFontSize": 10, "labelPadding": 1, "titleFontSize": 11, "titleFontWeight": "normal", "titlePadding": 0, "labelFlush": false}},
       "y": {"field": "v", "type": "quantitative", "title": "DO/mg·L⁻¹", "scale": {"domain": [9.2, 10.5], "nice": false, "zero": false},
             "axis": {"tickCount": 13, "labelOverlap": false, "labelExpr": "round(datum.value*10) % 2 == 0 ? format(datum.value, '.1f') : ''", "tickSize": {"condition": {"test": "round(datum.value*10) % 2 == 0", "value": 5}, "value": 3}, "labelFontSize": 10, "titleFontSize": 12.5, "titleFontWeight": "bold", "titlePadding": 3}},
       "color": {"field": "k", "type": "nominal", "scale": {"domain": ["R","S","N","L","C","B","P"], "range": ["#000000","#1f1fff","#1ed21e","#d4a516","#f7f77a","#22e3d2","#e8202a"]}, "legend": null}
      }},
     {"data": {"values": [{"x1": 1280, "x2": 1335, "y1": 9.62, "y2": 9.80}]},
      "mark": {"type": "rect", "fill": "#efdc3c", "fillOpacity": 0.55, "stroke": "#8c8430", "strokeWidth": 1},
      "encoding": {"x": {"field": "x1", "type": "quantitative", "title": "(b)"}, "x2": {"field": "x2"}, "y": {"field": "y1", "type": "quantitative", "title": "DO/mg·L⁻¹"}, "y2": {"field": "y2"}}},
     {"data": {"values": [{"x1": 1281, "y1": 9.82, "x2": 1115, "y2": 9.93}]},
      "mark": {"type": "rule", "color": "#ee2222", "strokeWidth": 1},
      "encoding": {"x": {"field": "x1", "type": "quantitative", "title": "(b)"}, "x2": {"field": "x2"}, "y": {"field": "y1", "type": "quantitative", "title": "DO/mg·L⁻¹"}, "y2": {"field": "y2"}}},
     {"data": {"values": [{"x2": 1115, "y2": 9.93}]},
      "mark": {"type": "point", "shape": "wedge", "filled": true, "color": "#ee2222", "opacity": 1, "size": 40, "angle": 302},
      "encoding": {"x": {"field": "x2", "type": "quantitative", "title": "(b)"}, "y": {"field": "y2", "type": "quantitative", "title": "DO/mg·L⁻¹"}}}
    ]},
    {"layer": [
     {"data": {"values": [{"x1": 1319.6, "x2": 1382, "y1": 9.60, "y2": 9.80}]},
      "mark": {"type": "rect", "fill": "white", "stroke": "#aaa", "strokeWidth": 0.6},
      "encoding": {"x": {"field": "x1", "type": "quantitative", "title": null}, "x2": {"field": "x2"}, "y": {"field": "y1", "type": "quantitative", "title": null}, "y2": {"field": "y2"}}},
     {"data": {"values": [{"x1": 1330, "x2": 1382, "y1": 9.60, "y2": 9.80}]},
      "mark": {"type": "rect", "fillOpacity": 0, "stroke": "#555", "strokeWidth": 0.8},
      "encoding": {"x": {"field": "x1", "type": "quantitative", "title": null}, "x2": {"field": "x2"}, "y": {"field": "y1", "type": "quantitative", "title": null}, "y2": {"field": "y2"}}},
     {"data": {"name": "ib"}, "transform": [{"fold": ["R","S","N","L","C","B","P"], "as": ["k","v"]}],
      "mark": {"type": "line", "strokeWidth": 1.3},
      "encoding": {
       "x": {"field": "x", "type": "quantitative", "title": null, "scale": {"domain": [1330, 1382], "range": [23, 133], "nice": false, "zero": false},
             "axis": {"orient": "bottom", "offset": -74, "zindex": 2, "values": [1330,1340,1350,1360,1370], "format": "d", "labelOverlap": false, "labelFontSize": 6, "tickSize": 2, "labelPadding": 1, "domain": false, "tickColor": "#555"}},
       "y": {"field": "v", "type": "quantitative", "title": null, "scale": {"domain": [9.60, 9.80], "range": [42, 5], "nice": false, "zero": false},
             "axis": {"orient": "left", "offset": -23, "zindex": 2, "tickCount": 20, "labelExpr": "round(datum.value*100) % 4 == 0 ? format(datum.value, '.2f') : ''", "tickSize": {"condition": {"test": "round(datum.value*100) % 4 == 0", "value": 2}, "value": 0}, "labelOverlap": false, "labelFontSize": 6, "labelPadding": 1, "domain": false, "tickColor": "#555"}},
       "color": {"field": "k", "type": "nominal", "scale": {"domain": ["R","S","N","L","C","B","P"], "range": ["#000000","#1f1fff","#1ed21e","#d4a516","#f7f77a","#22e3d2","#e8202a"]}, "legend": null}
      }}
    ]}
   ]}
 ], "spacing": 6},
 {"hconcat": [
  {"width": 213, "height": 116,
   "resolve": {"scale": {"x": "independent", "y": "independent"}},
   "layer": [
    {"layer": [
     {"data": {"name": "c"}, "transform": [{"fold": ["R","S","N","L","C","B","P"], "as": ["k","v"]}],
      "mark": {"type": "line", "strokeWidth": 0.8},
      "encoding": {
       "x": {"field": "x", "type": "quantitative", "title": "(c)", "scale": {"domain": [-105, 2130], "nice": false, "zero": false},
             "axis": {"values": [0,250,500,750,1000,1250,1500,1750,2000], "format": "d", "labelOverlap": false, "labelExpr": "datum.value % 500 == 0 ? datum.label : ''", "tickSize": {"condition": {"test": "datum.value % 500 == 0", "value": 5}, "value": 3}, "labelFontSize": 10, "labelPadding": 1, "titleFontSize": 11, "titleFontWeight": "normal", "titlePadding": 0, "labelFlush": false}},
       "y": {"field": "v", "type": "quantitative", "title": "DO/mg·L⁻¹", "scale": {"domain": [9.2, 10.5], "nice": false, "zero": false},
             "axis": {"tickCount": 13, "labelOverlap": false, "labelExpr": "round(datum.value*10) % 2 == 0 ? format(datum.value, '.1f') : ''", "tickSize": {"condition": {"test": "round(datum.value*10) % 2 == 0", "value": 5}, "value": 3}, "labelFontSize": 10, "titleFontSize": 12.5, "titleFontWeight": "bold", "titlePadding": 3}},
       "color": {"field": "k", "type": "nominal", "scale": {"domain": ["R","S","N","L","C","B","P"], "range": ["#000000","#1f1fff","#1ed21e","#d4a516","#f7f77a","#22e3d2","#e8202a"]}, "legend": null}
      }},
     {"data": {"values": [{"x1": 1212, "x2": 1276, "y1": 9.69, "y2": 9.815}]},
      "mark": {"type": "rect", "fill": "#efdc3c", "fillOpacity": 0.55, "stroke": "#8c8430", "strokeWidth": 1},
      "encoding": {"x": {"field": "x1", "type": "quantitative", "title": "(c)"}, "x2": {"field": "x2"}, "y": {"field": "y1", "type": "quantitative", "title": "DO/mg·L⁻¹"}, "y2": {"field": "y2"}}},
     {"data": {"values": [{"x1": 1213, "y1": 9.86, "x2": 1098, "y2": 9.97}]},
      "mark": {"type": "rule", "color": "#ee2222", "strokeWidth": 1},
      "encoding": {"x": {"field": "x1", "type": "quantitative", "title": "(c)"}, "x2": {"field": "x2"}, "y": {"field": "y1", "type": "quantitative", "title": "DO/mg·L⁻¹"}, "y2": {"field": "y2"}}},
     {"data": {"values": [{"x2": 1098, "y2": 9.97}]},
      "mark": {"type": "point", "shape": "wedge", "filled": true, "color": "#ee2222", "opacity": 1, "size": 40, "angle": 312},
      "encoding": {"x": {"field": "x2", "type": "quantitative", "title": "(c)"}, "y": {"field": "y2", "type": "quantitative", "title": "DO/mg·L⁻¹"}}}
    ]},
    {"layer": [
     {"data": {"values": [{"x1": 1221.7, "x2": 1275, "y1": 9.68, "y2": 9.807}]},
      "mark": {"type": "rect", "fill": "white", "stroke": "#aaa", "strokeWidth": 0.6},
      "encoding": {"x": {"field": "x1", "type": "quantitative", "title": null}, "x2": {"field": "x2"}, "y": {"field": "y1", "type": "quantitative", "title": null}, "y2": {"field": "y2"}}},
     {"data": {"values": [{"x1": 1228, "x2": 1275, "y1": 9.68, "y2": 9.807}]},
      "mark": {"type": "rect", "fillOpacity": 0, "stroke": "#555", "strokeWidth": 0.8},
      "encoding": {"x": {"field": "x1", "type": "quantitative", "title": null}, "x2": {"field": "x2"}, "y": {"field": "y1", "type": "quantitative", "title": null}, "y2": {"field": "y2"}}},
     {"data": {"name": "ic"}, "transform": [{"fold": ["R","N","L","C","B","P"], "as": ["k","v"]}],
      "mark": {"type": "line", "strokeWidth": 1.3},
      "encoding": {
       "x": {"field": "x", "type": "quantitative", "title": null, "scale": {"domain": [1228, 1275], "range": [19, 138], "nice": false, "zero": false},
             "axis": {"orient": "bottom", "offset": -76, "zindex": 2, "values": [1230,1240,1250,1260,1270], "format": "d", "labelOverlap": false, "labelFontSize": 6, "tickSize": 2, "labelPadding": 1, "domain": false, "tickColor": "#555"}},
       "y": {"field": "v", "type": "quantitative", "title": null, "scale": {"domain": [9.68, 9.807], "range": [40, 2], "nice": false, "zero": false},
             "axis": {"orient": "left", "offset": -19, "zindex": 2, "tickCount": 13, "labelExpr": "round(datum.value*100) % 4 == 0 ? format(datum.value, '.2f') : ''", "tickSize": {"condition": {"test": "round(datum.value*100) % 4 == 0", "value": 2}, "value": 0}, "labelOverlap": false, "labelFontSize": 6, "labelPadding": 1, "domain": false, "tickColor": "#555"}},
       "color": {"field": "k", "type": "nominal", "scale": {"domain": ["R","S","N","L","C","B","P"], "range": ["#000000","#1f1fff","#1ed21e","#d4a516","#f7f77a","#22e3d2","#e8202a"]}, "legend": null}
      }}
    ]}
   ]},
  {"width": 214, "height": 116,
   "resolve": {"scale": {"x": "independent", "y": "independent"}},
   "layer": [
    {"layer": [
     {"data": {"name": "d"}, "transform": [{"fold": ["R","S","N","L","C","B","P"], "as": ["k","v"]}],
      "mark": {"type": "line", "strokeWidth": 0.8},
      "encoding": {
       "x": {"field": "x", "type": "quantitative", "title": "(d)", "scale": {"domain": [-75, 2110], "nice": false, "zero": false},
             "axis": {"values": [0,250,500,750,1000,1250,1500,1750,2000], "format": "d", "labelOverlap": false, "labelExpr": "datum.value % 500 == 0 ? datum.label : ''", "tickSize": {"condition": {"test": "datum.value % 500 == 0", "value": 5}, "value": 3}, "labelFontSize": 10, "labelPadding": 1, "titleFontSize": 11, "titleFontWeight": "normal", "titlePadding": 0, "labelFlush": false}},
       "y": {"field": "v", "type": "quantitative", "title": "DO/mg·L⁻¹", "scale": {"domain": [9.2, 10.5], "nice": false, "zero": false},
             "axis": {"tickCount": 13, "labelOverlap": false, "labelExpr": "round(datum.value*10) % 2 == 0 ? format(datum.value, '.1f') : ''", "tickSize": {"condition": {"test": "round(datum.value*10) % 2 == 0", "value": 5}, "value": 3}, "labelFontSize": 10, "titleFontSize": 12.5, "titleFontWeight": "bold", "titlePadding": 3}},
       "color": {"field": "k", "type": "nominal", "scale": {"domain": ["R","S","N","L","C","B","P"], "range": ["#000000","#1f1fff","#1ed21e","#d4a516","#f7f77a","#22e3d2","#e8202a"]}, "legend": null}
      }},
     {"data": {"values": [{"x1": 1878, "x2": 1980, "y1": 9.89, "y2": 10.10}]},
      "mark": {"type": "rect", "fill": "#efdc3c", "fillOpacity": 0.55, "stroke": "#8c8430", "strokeWidth": 1},
      "encoding": {"x": {"field": "x1", "type": "quantitative", "title": "(d)"}, "x2": {"field": "x2"}, "y": {"field": "y1", "type": "quantitative", "title": "DO/mg·L⁻¹"}, "y2": {"field": "y2"}}},
     {"data": {"values": [{"x1": 1878, "y1": 10.12, "x2": 1276, "y2": 10.25}]},
      "mark": {"type": "rule", "color": "#ee2222", "strokeWidth": 1},
      "encoding": {"x": {"field": "x1", "type": "quantitative", "title": "(d)"}, "x2": {"field": "x2"}, "y": {"field": "y1", "type": "quantitative", "title": "DO/mg·L⁻¹"}, "y2": {"field": "y2"}}},
     {"data": {"values": [{"x2": 1276, "y2": 10.25}]},
      "mark": {"type": "point", "shape": "wedge", "filled": true, "color": "#ee2222", "opacity": 1, "size": 40, "angle": 282},
      "encoding": {"x": {"field": "x2", "type": "quantitative", "title": "(d)"}, "y": {"field": "y2", "type": "quantitative", "title": "DO/mg·L⁻¹"}}}
    ]},
    {"layer": [
     {"data": {"values": [{"x1": 1863.7, "x2": 1967, "y1": 9.88, "y2": 10.10}]},
      "mark": {"type": "rect", "fill": "white", "stroke": "#aaa", "strokeWidth": 0.6},
      "encoding": {"x": {"field": "x1", "type": "quantitative", "title": null}, "x2": {"field": "x2"}, "y": {"field": "y1", "type": "quantitative", "title": null}, "y2": {"field": "y2"}}},
     {"data": {"values": [{"x1": 1878, "x2": 1967, "y1": 9.88, "y2": 10.10}]},
      "mark": {"type": "rect", "fillOpacity": 0, "stroke": "#555", "strokeWidth": 0.8},
      "encoding": {"x": {"field": "x1", "type": "quantitative", "title": null}, "x2": {"field": "x2"}, "y": {"field": "y1", "type": "quantitative", "title": null}, "y2": {"field": "y2"}}},
     {"data": {"name": "id"}, "transform": [{"fold": ["R","N","L","C","B","P"], "as": ["k","v"]}],
      "mark": {"type": "line", "strokeWidth": 1.3},
      "encoding": {
       "x": {"field": "x", "type": "quantitative", "title": null, "scale": {"domain": [1878, 1967], "range": [17, 129], "nice": false, "zero": false},
             "axis": {"orient": "bottom", "offset": -76, "zindex": 2, "values": [1880,1900,1920,1940,1960], "format": "d", "labelOverlap": false, "labelFontSize": 6, "tickSize": 2, "labelPadding": 1, "domain": false, "tickColor": "#555"}},
       "y": {"field": "v", "type": "quantitative", "title": null, "scale": {"domain": [9.88, 10.10], "range": [40, 5], "nice": false, "zero": false},
             "axis": {"orient": "left", "offset": -17, "zindex": 2, "tickCount": 22, "labelExpr": "round(datum.value*100) % 4 == 0 ? format(datum.value, '.2f') : ''", "tickSize": {"condition": {"test": "round(datum.value*100) % 4 == 0", "value": 2}, "value": 0}, "labelOverlap": false, "labelFontSize": 6, "labelPadding": 1, "domain": false, "tickColor": "#555"}},
       "color": {"field": "k", "type": "nominal", "scale": {"domain": ["R","S","N","L","C","B","P"], "range": ["#000000","#1f1fff","#1ed21e","#d4a516","#f7f77a","#22e3d2","#e8202a"]}, "legend": null}
      }}
    ]}
   ]}
 ], "spacing": 6}
],
"spacing": 0
}
